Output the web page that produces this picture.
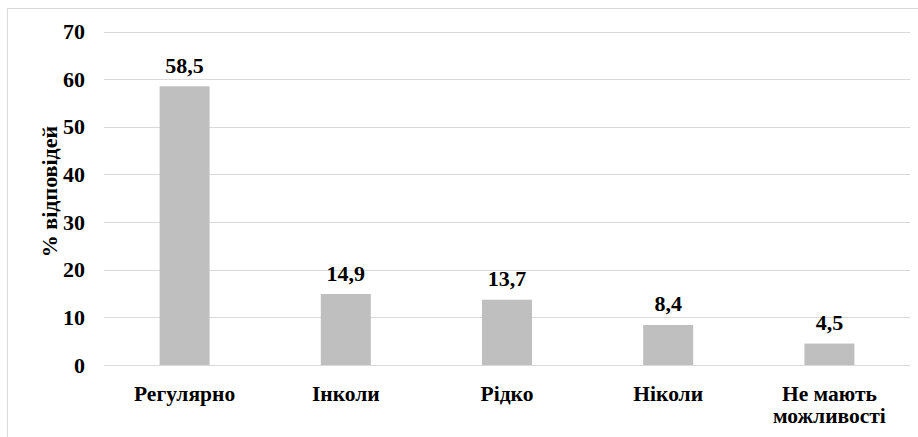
<!DOCTYPE html>
<html>
<head>
<meta charset="utf-8">
<script src="https://cdn.jsdelivr.net/npm/d3@7"></script>
</head>
<body style="margin:0; background:#fff">
<div id="chart"></div>
<script>
var categories = ['Регулярно', 'Інколи', 'Рідко', 'Ніколи', 'Не мають можливості']
var labelLines = [['Регулярно'], ['Інколи'], ['Рідко'], ['Ніколи'], ['Не мають', 'можливості']]
var values = [58.5, 14.9, 13.7, 8.4, 4.5]
var yTicks = [0, 10, 20, 30, 40, 50, 60, 70]

var width = 918
var height = 437
var margin = { top: 31.5, left: 104, right: 8, bottom: 72 }
var serif = "'Liberation Serif'"

var svg = d3
  .select('#chart')
  .append('svg')
  .attr('width', width)
  .attr('height', height)

// outer chart border
svg
  .append('rect')
  .attr('x', 7.5)
  .attr('y', 8.5)
  .attr('width', width)
  .attr('height', height)
  .attr('fill', 'none')
  .attr('stroke', '#d9d9d9')

var xScale = d3
  .scaleBand()
  .domain(categories)
  .range([margin.left, width - margin.right])
  .paddingInner(0.69)
  .paddingOuter(0.345)

var yScale = d3
  .scaleLinear()
  .domain([0, 70])
  .range([height - margin.bottom, margin.top])

// gridlines
svg
  .selectAll('.grid')
  .data(yTicks)
  .enter()
  .append('line')
  .attr('class', 'grid')
  .attr('x1', margin.left)
  .attr('x2', width - margin.right)
  .attr('y1', d => Math.round(yScale(d)) + 0.5)
  .attr('y2', d => Math.round(yScale(d)) + 0.5)
  .attr('stroke', '#d9d9d9')
  .attr('stroke-width', 1)

// y tick labels
svg
  .selectAll('.y-label')
  .data(yTicks)
  .enter()
  .append('text')
  .attr('class', 'y-label')
  .attr('x', 85)
  .attr('y', d => yScale(d) + 7.5)
  .attr('text-anchor', 'end')
  .style('font-family', serif)
  .style('font-weight', 'bold')
  .style('font-size', '22px')
  .text(d => d)

// bars
svg
  .selectAll('.bar')
  .data(values)
  .enter()
  .append('rect')
  .attr('class', 'bar')
  .attr('x', (d, i) => xScale(categories[i]))
  .attr('width', xScale.bandwidth())
  .attr('y', d => yScale(d))
  .attr('height', d => yScale(0) - yScale(d))
  .attr('fill', '#bfbfbf')

// value labels
svg
  .selectAll('.value')
  .data(values)
  .enter()
  .append('text')
  .attr('class', 'value')
  .attr('x', (d, i) => xScale(categories[i]) + xScale.bandwidth() / 2)
  .attr('y', d => yScale(d) - 13.5)
  .attr('text-anchor', 'middle')
  .style('font-family', serif)
  .style('font-weight', 'bold')
  .style('font-size', '22px')
  .text(d => d3.format('.1f')(d).replace('.', ','))

// category labels
var catLabel = svg
  .selectAll('.cat')
  .data(labelLines)
  .enter()
  .append('text')
  .attr('class', 'cat')
  .attr('text-anchor', 'middle')
  .style('font-family', serif)
  .style('font-weight', 'bold')
  .style('font-size', '21.5px')

catLabel
  .selectAll('tspan')
  .data((d, i) => d.map(t => ({ t: t, i: i })))
  .enter()
  .append('tspan')
  .attr('x', d => xScale(categories[d.i]) + xScale.bandwidth() / 2)
  .attr('y', (d, j) => 401 + j * 22)
  .text(d => d.t)

// axis title
svg
  .append('text')
  .attr('transform', 'translate(56.5,191.5) rotate(-90)')
  .attr('text-anchor', 'middle')
  .style('font-family', serif)
  .style('font-weight', 'bold')
  .style('font-size', '22px')
  .text('% відповідей')
</script>
</body>
</html>
